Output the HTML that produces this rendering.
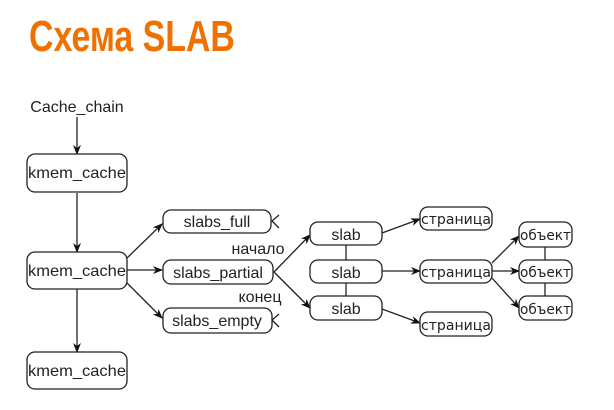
<!DOCTYPE html>
<html><head><meta charset="utf-8"><style>
html,body{margin:0;padding:0;background:#fff;width:614px;height:410px;overflow:hidden}
</style></head><body>
<svg width="614" height="410" xmlns="http://www.w3.org/2000/svg" font-family="Liberation Sans, DejaVu Sans, sans-serif">
<defs><marker id="a" markerWidth="10" markerHeight="8" refX="9" refY="4" orient="auto" markerUnits="userSpaceOnUse"><path d="M0,0 L10,4 L0,8 L3,4 z" fill="#111"/></marker></defs>
<text x="29" y="51" font-size="44" font-weight="bold" fill="#f07000" transform="translate(29,0) scale(0.77,1) translate(-29,0)">Схема SLAB</text>
<g font-size="16" fill="#222" text-anchor="middle">
<text x="77" y="112">Cache_chain</text>
</g>
<g stroke="#222" stroke-width="1.3" fill="none" marker-end="url(#a)">
<line x1="77" y1="117" x2="77" y2="154"/>
<line x1="77" y1="193" x2="77" y2="252"/>
<line x1="77" y1="289" x2="77" y2="352"/>
<line x1="127" y1="258" x2="162" y2="224"/>
<line x1="127" y1="270" x2="162" y2="270"/>
<line x1="127" y1="283" x2="162" y2="318"/>
<line x1="274" y1="272" x2="310" y2="235"/>
<line x1="274" y1="272" x2="310" y2="308"/>
<line x1="382" y1="233" x2="420" y2="219"/>
<line x1="382" y1="271" x2="420" y2="271"/>
<line x1="382" y1="309" x2="420" y2="323"/>
<line x1="492" y1="263" x2="519" y2="236"/>
<line x1="492" y1="271" x2="519" y2="271"/>
<line x1="492" y1="278" x2="519" y2="308"/>
</g>
<g stroke="#222" stroke-width="1.3" fill="none">
<line x1="346" y1="245" x2="346" y2="260"/><line x1="346" y1="283" x2="346" y2="296"/>
<line x1="545" y1="247" x2="545" y2="260"/><line x1="545" y1="283" x2="545" y2="296"/>
<path d="M279,215 L272,221 L279,228"/><path d="M279,314 L272,320 L279,327"/>
</g>
<g stroke="#222" stroke-width="1.3" fill="#fff">
<rect x="27" y="154" width="100" height="38" rx="8"/>
<rect x="27" y="252" width="100" height="37" rx="8"/>
<rect x="27" y="352" width="100" height="37" rx="8"/>
<rect x="163" y="210" width="108" height="23" rx="8"/>
<rect x="163" y="260" width="110" height="24" rx="8"/>
<rect x="163" y="308" width="109" height="25" rx="8"/>
<rect x="310" y="222" width="72" height="23" rx="8"/>
<rect x="310" y="260" width="72" height="23" rx="8"/>
<rect x="310" y="296" width="72" height="24" rx="8"/>
<rect x="420" y="207" width="72" height="23" rx="8"/>
<rect x="420" y="260" width="72" height="23" rx="8"/>
<rect x="420" y="312" width="72" height="24" rx="8"/>
<rect x="519" y="222" width="53" height="25" rx="8"/>
<rect x="519" y="260" width="53" height="23" rx="8"/>
<rect x="519" y="296" width="53" height="24" rx="8"/>
</g>
<g font-size="16" fill="#222" text-anchor="middle">
<text x="77" y="178" textLength="98" lengthAdjust="spacingAndGlyphs">kmem_cache</text>
<text x="77" y="276" textLength="98" lengthAdjust="spacingAndGlyphs">kmem_cache</text>
<text x="77" y="376" textLength="98" lengthAdjust="spacingAndGlyphs">kmem_cache</text>
<text x="217" y="227">slabs_full</text>
<text x="218" y="278">slabs_partial</text>
<text x="217" y="326">slabs_empty</text>
<text x="346" y="240">slab</text>
<text x="346" y="278">slab</text>
<text x="346" y="314">slab</text>
<text x="258" y="254">начало</text>
<text x="260" y="302">конец</text>
</g>
<g font-size="14" fill="#222" text-anchor="middle" font-family="DejaVu Sans, sans-serif">
<text x="456" y="224" textLength="70" lengthAdjust="spacingAndGlyphs">страница</text>
<text x="456" y="277" textLength="70" lengthAdjust="spacingAndGlyphs">страница</text>
<text x="456" y="330" textLength="70" lengthAdjust="spacingAndGlyphs">страница</text>
<text x="545.5" y="240" textLength="51" lengthAdjust="spacingAndGlyphs">объект</text>
<text x="545.5" y="277" textLength="51" lengthAdjust="spacingAndGlyphs">объект</text>
<text x="545.5" y="314" textLength="51" lengthAdjust="spacingAndGlyphs">объект</text>
</g>
</svg>
</body></html>
